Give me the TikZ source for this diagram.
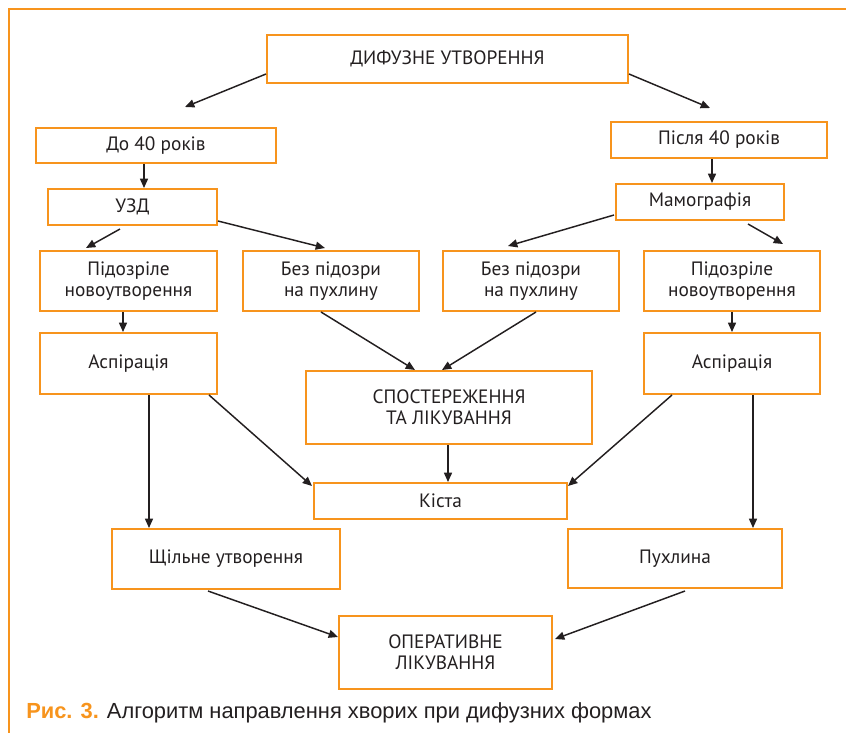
\documentclass[tikz,border=0pt]{standalone}
\usepackage{fontspec}
\setmainfont{PT Sans}
\newfontfamily\captionfont{Liberation Sans}
\usetikzlibrary{arrows.meta,calc}
\definecolor{boxorange}{HTML}{F7941D}
\definecolor{inkgray}{HTML}{231F20}

\begin{document}
\begin{tikzpicture}[x=0.75pt,y=-0.75pt]

\tikzset{
  flow box/.style={
    draw=boxorange,
    line width=1.5pt,
    text=inkgray,
    align=center,
    inner sep=0pt,
    font=\fontsize{14.5}{16}\selectfont,
  },
  box size/.style 2 args={
    minimum width=#1*0.75pt,
    minimum height=#2*0.75pt,
  },
  flow arrow/.style={
    draw=inkgray,
    line width=1.1pt,
    -{Triangle[length=7pt,width=6pt]},
  }
}

\useasboundingbox (0,0) rectangle (846,733);

% Frame
\draw[boxorange, line width=1.2pt] (846,9) -- (9,9) -- (9,733);

% Top
\node[flow box, box size={361}{48}] (diff) at (447.5,59) {ДИФУЗНЕ УТВОРЕННЯ};

% Age
\node[flow box, box size={240}{35}] (young) at (156,145.5) {До 40 років};
\node[flow box, box size={216}{36}] (old) at (719,140) {Після 40 років};

% Examination
\node[flow box, box size={169}{36}] (uzd) at (132.5,207) {УЗД};
\node[flow box, box size={168}{36}] (mammo) at (700,202) {Мамографія};

% Findings
\node[flow box, box size={177}{60}] (suspL) at (128.5,281) {Підозріле\\новоутворення};
\node[flow box, box size={176}{60}] (noneL) at (331,281) {Без підозри\\на пухлину};
\node[flow box, box size={176}{60}] (noneR) at (531,281) {Без підозри\\на пухлину};
\node[flow box, box size={176}{60}] (suspR) at (732,281) {Підозріле\\новоутворення};

% Aspiration and observation
\node[flow box, box size={177}{61}] (aspL) at (128.5,363.5) {Аспірація};
\node[flow box, box size={286}{73}] (observ) at (449,407.5) {СПОСТЕРЕЖЕННЯ\\ТА ЛІКУВАННЯ};
\node[flow box, box size={176}{61}] (aspR) at (732,363.5) {Аспірація};

% Results
\node[flow box, box size={253}{36}] (cyst) at (440.5,501) {Кіста};
\node[flow box, box size={228}{60}] (dense) at (226,559) {Щільне утворення};
\node[flow box, box size={214}{59}] (tumor) at (675,558.5) {Пухлина};

% Bottom
\node[flow box, box size={213}{73}] (oper) at (445.5,652) {ОПЕРАТИВНЕ\\ЛІКУВАННЯ};

% Caption
\node[anchor=base west, inner sep=0pt, text=inkgray,
      font=\captionfont\fontsize{16.4}{18}\selectfont] (caption) at (26,718)
  {\textcolor{boxorange}{\bfseries Рис. 3.} Алгоритм направлення хворих при дифузних формах};

% Edges
\draw[flow arrow] ($(diff.west)+(0,15)$) -- ($(young.north)+(29,-20)$);
\draw[flow arrow] ($(diff.east)+(0,15)$) -- ($(old.north)+(-9,-13)$);

\draw[flow arrow] ($(young.south)+(-12,0)$) -- ($(uzd.north)+(11.5,0)$);
\draw[flow arrow] ($(old.south)+(-7,0)$) -- ($(mammo.north)+(12,0)$);

\draw[flow arrow] ($(uzd.south)+(-12.5,3)$) -- ($(suspL.north)+(-42.5,-2)$);
\draw[flow arrow] ($(uzd.east)+(0,14)$) -- ($(noneL.north)+(-6,-2)$);
\draw[flow arrow] ($(mammo.west)+(-1,13)$) -- ($(noneR.north)+(-23,-4)$);
\draw[flow arrow] ($(mammo.south)+(48,3)$) -- ($(suspR.north)+(51,-6)$);

\draw[flow arrow] ($(suspL.south)+(-5.5,0)$) -- ($(aspL.north)+(-5.5,0)$);
\draw[flow arrow] (suspR.south) -- (aspR.north);

\draw[flow arrow] ($(noneL.south)+(-10,0)$) -- ($(observ.north)+(-34,0)$);
\draw[flow arrow] ($(noneR.south)+(5,0)$) -- ($(observ.north)+(-7,0)$);

\draw[flow arrow] ($(observ.south)+(-1,0)$) -- ($(cyst.north)+(7.5,0)$);
\draw[flow arrow] ($(aspL.south)+(80.5,0)$) -- ($(cyst.west)+(-1,-15)$);
\draw[flow arrow] ($(aspR.south)+(-60,0)$) -- ($(cyst.east)+(0,-15)$);

\draw[flow arrow] ($(aspL.south)+(20.5,0)$) -- ($(dense.north)+(-77,0)$);
\draw[flow arrow] ($(aspR.south)+(21,0)$) -- ($(tumor.north)+(78,0)$);

\draw[flow arrow] ($(dense.south)+(-18,1)$) -- ($(oper.west)+(0,-15)$);
\draw[flow arrow] ($(tumor.south)+(10,2)$) -- ($(oper.east)+(2,-13)$);

\end{tikzpicture}
\end{document}
